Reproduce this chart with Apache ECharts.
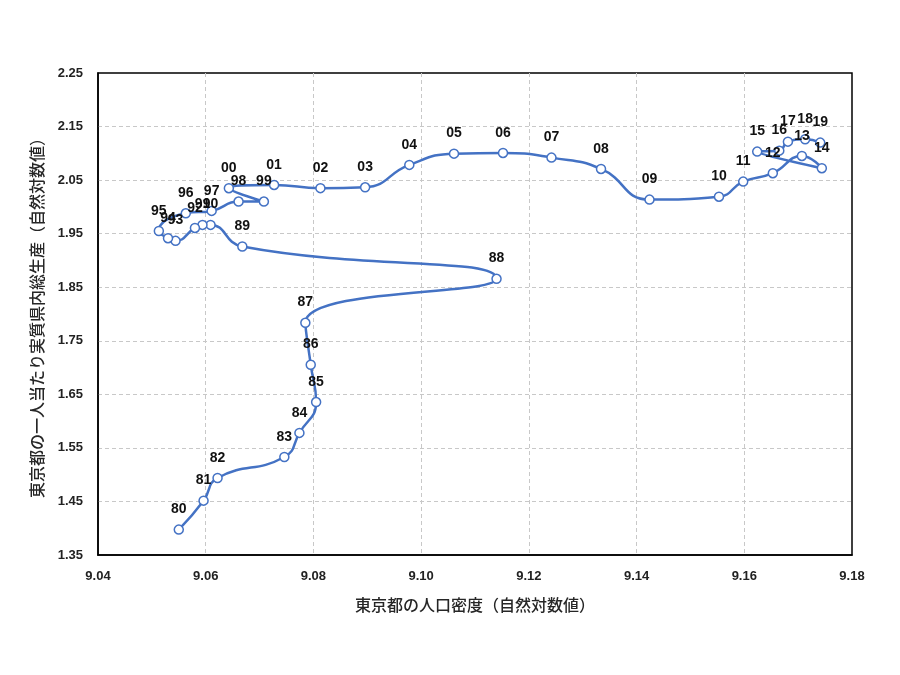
<!DOCTYPE html>
<html>
<head>
<meta charset="utf-8">
<script src="https://cdn.jsdelivr.net/npm/echarts@6/dist/echarts.min.js"></script>
<style>
  html, body { margin: 0; padding: 0; background: #fff; }
  #chart { width: 900px; height: 675px; }
</style>
</head>
<body>
<div id="chart"></div>
<script>
// 年（ラベル）
var years = ['80', '81', '82', '83', '84', '85', '86', '87', '88', '89',
             '90', '91', '92', '93', '94', '95', '96', '97', '98', '99',
             '00', '01', '02', '03', '04', '05', '06', '07', '08', '09',
             '10', '11', '12', '13', '14', '15', '16', '17', '18', '19'];

// 人口密度（自然対数値）
var density = [9.0550, 9.0596, 9.0622, 9.0746, 9.0774, 9.0805, 9.0795, 9.0785, 9.1140, 9.0668,
               9.0609, 9.0594, 9.0580, 9.0544, 9.0530, 9.0513, 9.0563, 9.0611, 9.0661, 9.0708,
               9.0643, 9.0727, 9.0813, 9.0896, 9.0978, 9.1061, 9.1152, 9.1242, 9.1334, 9.1424,
               9.1553, 9.1598, 9.1653, 9.1707, 9.1744, 9.1624, 9.1665, 9.1681, 9.1713, 9.1741];

// 一人当たり実質県内総生産（自然対数値）
var gdp = [1.3974, 1.4515, 1.4938, 1.5330, 1.5780, 1.6356, 1.7052, 1.7836, 1.8657, 1.9260,
           1.9664, 1.9664, 1.9607, 1.9366, 1.9416, 1.9550, 1.9880, 1.9925, 2.0099, 2.0099,
           2.0349, 2.0410, 2.0350, 2.0366, 2.0784, 2.0994, 2.1007, 2.0920, 2.0709, 2.0136,
           2.0190, 2.0472, 2.0629, 2.0951, 2.0722, 2.1032, 2.1050, 2.1218, 2.1263, 2.1200];

var xTicks = { min: 9.04, max: 9.18, interval: 0.02 };
var yTicks = { min: 1.35, max: 2.25, interval: 0.1 };

var data = [];
for (var i = 0; i < years.length; i++) {
  data.push({ value: [density[i], gdp[i]], name: years[i] });
}

var myChart = echarts.init(document.getElementById('chart'));

var numFont = '"Liberation Sans", Arial, sans-serif';
var jpFont = '"Noto Sans CJK JP", sans-serif';

myChart.setOption({
  backgroundColor: '#fff',
  animation: false,
  grid: {
    left: 98, right: 48, top: 73, bottom: 120,
    show: true,
    borderColor: '#000',
    borderWidth: 1.5
  },
  xAxis: {
    type: 'value',
    min: xTicks.min, max: xTicks.max, interval: xTicks.interval,
    name: '東京都の人口密度（自然対数値）',
    nameLocation: 'middle',
    nameGap: 42,
    nameTextStyle: { fontFamily: jpFont, fontSize: 16, fontWeight: 500, color: '#262626' },
    axisLine: { show: true, lineStyle: { color: '#000', width: 1.5 } },
    axisTick: { show: false },
    axisLabel: {
      margin: 15, fontFamily: numFont, fontSize: 13, fontWeight: 'bold', color: '#222',
      formatter: function (v) { return v.toFixed(2); }
    },
    splitLine: {
      show: true, showMinLine: false, showMaxLine: false,
      lineStyle: { color: '#c8c8c8', type: [4, 3], width: 1 }
    }
  },
  yAxis: {
    type: 'value',
    min: yTicks.min, max: yTicks.max, interval: yTicks.interval,
    name: '東京都の一人当たり実質県内総生産（自然対数値）',
    nameLocation: 'middle',
    nameGap: 53,
    nameTextStyle: { fontFamily: jpFont, fontSize: 16, fontWeight: 500, color: '#262626' },
    axisLine: { show: true, lineStyle: { color: '#000', width: 1.5 } },
    axisTick: { show: false },
    axisLabel: {
      margin: 15, fontFamily: numFont, fontSize: 13, fontWeight: 'bold', color: '#222',
      formatter: function (v) { return v.toFixed(2); }
    },
    splitLine: {
      show: true, showMinLine: false, showMaxLine: false,
      lineStyle: { color: '#c8c8c8', type: [4, 3], width: 1 }
    }
  },
  series: [{
    type: 'line',
    data: data,
    smooth: 0.5,
    symbol: 'circle',
    symbolSize: 9,
    showAllSymbol: true,
    lineStyle: { color: '#4472C4', width: 2.5 },
    itemStyle: { color: '#fff', borderColor: '#4472C4', borderWidth: 1.5 },
    label: {
      show: true,
      position: 'top',
      distance: 8,
      fontFamily: numFont,
      fontSize: 14,
      fontWeight: 'bold',
      color: '#111',
      formatter: function (p) { return p.name; }
    },
    labelLayout: { hideOverlap: false },
    z: 3
  }]
});
</script>
</body>
</html>
